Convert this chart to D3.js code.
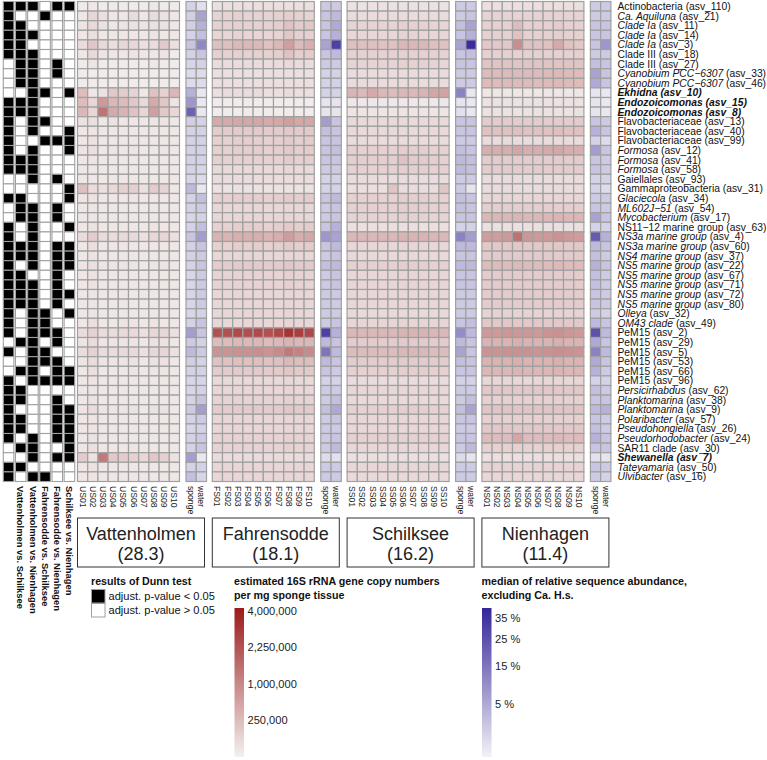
<!DOCTYPE html>
<html>
<head>
<meta charset="utf-8">
<script src="https://cdn.jsdelivr.net/npm/d3@7"></script>
<style>
    body { margin: 0; background: #fff; }
    svg { font-family: "Liberation Sans", Arial, sans-serif; }
</style>
</head>
<body>
<div id="chart"></div>
<script>
// Row labels
const taxonNames = ["Actinobacteria", "Ca. Aquiluna", "Clade Ia", "Clade Ia", "Clade Ia", "Clade III", "Clade III",
    "Cyanobium PCC−6307", "Cyanobium PCC−6307", "Ekhidna", "Endozoicomonas", "Endozoicomonas",
    "Flavobacteriaceae", "Flavobacteriaceae", "Flavobacteriaceae", "Formosa", "Formosa", "Formosa", "Gaiellales",
    "Gammaproteobacteria", "Glaciecola", "ML602J−51", "Mycobacterium", "NS11−12 marine group", "NS3a marine group",
    "NS3a marine group", "NS4 marine group", "NS5 marine group", "NS5 marine group", "NS5 marine group",
    "NS5 marine group", "NS5 marine group", "Olleya", "OM43 clade", "PeM15", "PeM15", "PeM15", "PeM15", "PeM15",
    "PeM15", "Persicirhabdus", "Planktomarina", "Planktomarina", "Polaribacter", "Pseudohongiella",
    "Pseudorhodobacter", "SAR11 clade", "Shewanella", "Tateyamaria", "Ulvibacter"];
const taxonAsv = ["asv_110", "asv_21", "asv_11", "asv_14", "asv_3", "asv_18", "asv_27", "asv_33", "asv_46", "asv_10",
    "asv_15", "asv_8", "asv_13", "asv_40", "asv_99", "asv_12", "asv_41", "asv_58", "asv_93", "asv_31", "asv_34",
    "asv_54", "asv_17", "asv_63", "asv_4", "asv_60", "asv_37", "asv_22", "asv_67", "asv_71", "asv_72", "asv_80",
    "asv_32", "asv_49", "asv_2", "asv_29", "asv_5", "asv_53", "asv_66", "asv_96", "asv_62", "asv_38", "asv_9",
    "asv_57", "asv_26", "asv_24", "asv_30", "asv_7", "asv_50", "asv_16"];
// n = plain, i = italic name, b = bold italic label
const taxonStyle = ["n", "i", "i", "i", "i", "n", "n", "i", "i", "b", "b", "b", "n", "n", "n", "i", "i", "i", "n", "n",
    "i", "i", "i", "n", "i", "i", "i", "i", "i", "i", "i", "i", "i", "i", "n", "n", "n", "n", "n", "n", "i", "i", "i",
    "i", "i", "i", "n", "b", "i", "i"];

const sites = ["Vattenholmen", "Fahrensodde", "Schilksee", "Nienhagen"];
const siteCodes = ["US", "FS", "SS", "NS"];
const siteMedians = ["28.3", "18.1", "16.2", "11.4"];
const samples = ["01", "02", "03", "04", "05", "06", "07", "08", "09", "10"];
const fractions = ["sponge", "water"];

// first column carries no printed label in the figure
const comparisons = ["c1", "c2", "c3", "c4", "c5", "c6"];
const comparisonLabels = ["", "Vattenholmen vs. Schilksee", "Vattenholmen vs. Nienhagen",
    "Fahrensodde vs. Schilksee", "Fahrensodde vs. Nienhagen", "Schilksee vs. Nienhagen"];
// 1 = adjust. p-value < 0.05
const dunn = [
    [1,1,1,0,1,1],[1,0,0,1,0,0],[1,1,0,0,0,0],[1,1,1,0,0,0],[1,1,0,0,0,0],[1,1,1,0,0,0],[0,1,1,0,1,0],
    [0,1,1,0,1,0],[0,1,1,0,0,0],[0,0,1,1,0,1],[1,1,1,0,0,0],[1,1,1,0,0,0],[1,0,1,1,0,0],[1,0,1,0,0,1],
    [1,0,0,1,1,1],[1,0,1,0,0,1],[1,1,1,0,0,0],[1,1,1,0,0,0],[0,0,1,0,1,0],[0,0,0,0,0,1],[1,1,0,0,0,1],
    [0,1,1,0,1,0],[0,1,1,0,1,0],[1,0,1,0,0,1],[1,0,1,0,0,0],[1,1,1,0,1,1],[1,1,1,0,1,1],[1,0,1,0,1,1],
    [1,1,0,0,1,0],[1,1,1,0,1,0],[1,1,1,0,1,1],[1,1,1,0,1,0],[1,0,1,1,0,1],[1,0,1,1,0,0],[1,0,1,1,1,0],
    [0,1,1,0,1,0],[1,0,1,1,0,0],[0,0,1,1,1,0],[0,1,1,0,1,1],[1,0,1,1,1,1],[1,1,0,0,0,0],[1,1,0,0,1,0],
    [1,0,0,0,1,1],[1,1,0,0,1,1],[1,1,0,0,1,1],[1,0,1,0,1,1],[0,1,1,0,0,1],[0,0,1,0,1,1],[1,1,0,0,0,0],
    [1,0,1,1,0,0]];

// estimated 16S rRNA gene copies per mg sponge tissue, in thousands (rows = taxa, cols = samples 01-10)
const copiesUS = [
    [5,8,5,5,5,5,5,8,5,5],[10,60,30,10,10,40,10,40,20,10],[15,50,20,10,15,20,15,25,20,10],
    [10,30,10,10,10,10,10,15,10,10],[40,160,50,30,60,60,30,40,140,30],[10,50,15,10,10,15,10,10,15,5],
    [5,15,5,5,5,5,5,10,5,5],[3,3,3,3,3,3,3,3,3,3],[3,3,3,3,3,3,3,3,3,3],
    [250,10,20,150,120,80,10,200,90,300],[250,60,700,300,250,150,50,450,160,15],
    [300,60,1400,450,350,200,70,600,150,60],[20,30,10,20,10,10,10,15,15,10],[10,15,10,10,10,10,10,10,10,10],
    [10,20,10,10,10,10,10,10,10,10],[15,30,10,15,10,15,10,10,15,10],[10,15,10,10,10,10,10,10,10,10],
    [10,10,10,10,10,10,10,10,10,10],[10,10,10,10,10,10,10,10,10,10],[220,40,30,50,90,110,30,120,80,10],
    [15,20,10,10,10,15,10,10,10,10],[10,15,10,10,10,10,10,10,10,10],[10,15,10,10,10,10,10,10,10,10],
    [10,20,10,10,10,10,10,15,10,10],[40,120,40,40,50,50,30,60,70,30],[10,30,10,10,10,10,10,10,10,10],
    [10,20,10,10,10,10,10,10,10,10],[15,30,15,15,15,15,10,15,15,10],[10,20,10,10,10,10,10,10,10,10],
    [10,20,10,10,10,10,10,10,10,10],[10,15,10,10,10,10,10,10,10,10],[10,15,10,10,10,10,10,10,10,10],
    [10,15,10,10,10,10,10,10,10,10],[10,30,10,10,15,15,10,15,10,10],[40,90,40,40,50,50,30,60,60,30],
    [15,40,15,15,15,15,10,20,20,10],[40,100,40,40,50,50,30,60,70,30],[15,40,15,15,15,20,10,20,20,10],
    [10,30,10,10,10,15,10,15,15,10],[10,15,10,10,10,10,10,10,10,10],[10,15,10,10,10,10,10,10,10,10],
    [10,20,10,10,10,10,10,10,10,10],[15,40,15,15,15,20,10,20,20,10],[10,15,10,10,10,10,10,10,10,10],
    [10,15,10,10,10,10,10,10,10,10],[10,20,10,10,10,10,10,10,10,10],[10,30,10,10,10,15,10,10,10,10],
    [120,20,1300,150,120,100,60,150,100,20],[10,20,10,10,10,10,10,10,10,10],[10,15,10,10,10,10,10,10,10,10]];
const copiesFS = [
    [30,30,30,30,30,30,30,30,30,30],[80,80,90,80,80,80,90,110,90,80],[90,90,100,90,90,100,110,200,120,160],
    [70,70,80,70,70,70,80,160,90,100],[220,220,280,280,280,200,300,600,250,380],
    [90,90,100,100,100,90,110,200,110,120],[40,40,40,40,40,40,40,50,40,40],[30,30,30,30,30,30,30,30,30,30],
    [30,30,30,30,30,30,30,30,30,30],[30,40,40,40,40,30,30,40,30,30],[3,3,3,3,3,3,3,3,3,3],[3,3,3,3,3,3,3,3,3,3],
    [450,450,480,480,480,450,480,600,480,500],[120,120,130,130,130,120,130,150,130,130],
    [100,100,110,110,110,100,110,130,110,120],[100,100,110,110,110,100,110,140,110,120],
    [90,90,100,100,100,90,100,120,100,110],[50,50,50,50,50,50,50,60,50,50],[40,40,40,40,40,40,40,40,40,40],
    [20,20,20,20,20,20,20,20,20,20],[100,100,110,110,110,100,110,130,110,120],[60,60,60,60,60,60,60,70,60,60],
    [60,60,60,60,60,60,60,70,60,60],[100,100,110,110,110,100,110,130,110,120],
    [350,350,380,380,400,350,420,650,420,480],[100,100,110,110,110,100,110,140,110,120],
    [60,60,60,60,60,60,60,70,60,60],[120,120,130,130,130,120,130,160,130,140],[80,80,80,80,80,80,80,100,80,80],
    [80,80,80,80,80,80,80,100,80,80],[60,60,60,60,60,60,60,70,60,60],[60,60,60,60,60,60,60,70,60,60],
    [60,60,60,60,60,60,60,70,60,60],[60,60,60,60,60,60,60,70,60,60],
    [2300,2300,2500,2400,2500,2300,2600,3200,2900,2600],[250,250,280,280,280,250,280,350,300,300],
    [800,800,850,850,900,800,950,1300,1100,950],[200,200,220,220,220,200,220,280,240,240],
    [120,120,130,130,130,120,130,160,140,140],[50,50,50,50,50,50,50,60,50,50],[60,60,60,60,60,60,60,70,60,60],
    [80,80,80,80,80,80,80,100,80,80],[120,120,130,130,130,120,130,160,140,140],[60,60,60,60,60,60,60,70,60,60],
    [60,60,60,60,60,60,60,70,60,60],[80,80,80,80,80,80,80,100,80,80],[80,80,80,80,80,80,80,100,80,80],
    [40,40,40,40,40,40,40,40,40,40],[60,60,60,60,60,60,60,70,60,60],[60,60,60,60,60,60,60,70,60,60]];
const copiesSS = [
    [20,20,20,20,20,20,20,20,20,20],[40,40,40,40,40,40,40,40,40,40],[80,80,80,80,80,100,100,90,80,70],
    [60,60,60,60,60,80,80,70,60,60],[220,220,220,200,200,300,300,300,220,200],[90,90,90,90,90,100,100,100,90,80],
    [80,80,80,80,80,90,90,90,80,70],[40,40,40,40,40,40,40,40,40,40],[40,40,40,40,40,40,40,40,40,40],
    [350,280,450,300,250,300,280,350,500,550],[8,8,8,8,8,8,8,8,8,8],[15,15,15,15,15,15,15,15,15,15],
    [50,50,50,50,50,50,50,50,50,50],[50,50,50,50,50,50,50,50,50,50],[40,40,40,40,40,40,40,40,40,40],
    [100,100,100,100,100,110,110,110,100,100],[110,110,110,110,110,200,130,130,110,100],
    [100,100,100,100,100,110,110,110,100,100],[40,40,40,40,40,40,40,40,40,40],[30,30,30,30,180,40,40,40,40,170],
    [100,100,100,100,100,110,110,110,100,100],[100,100,100,100,100,110,110,110,100,100],
    [80,80,80,80,80,90,90,90,80,80],[30,30,30,30,30,30,30,30,30,30],[300,300,300,300,300,350,350,350,300,300],
    [60,60,60,60,60,70,70,70,60,60],[50,50,50,50,50,55,55,55,50,50],[100,100,100,100,100,110,110,110,100,100],
    [60,60,60,60,60,65,65,65,60,60],[70,70,70,70,70,75,75,75,70,70],[60,60,60,60,60,60,60,60,60,60],
    [60,60,60,60,60,60,60,60,60,60],[50,50,50,50,50,50,50,50,50,50],[70,70,70,70,70,75,75,75,70,70],
    [300,300,300,300,300,350,350,350,300,300],[120,120,120,120,120,130,130,130,120,120],
    [250,250,250,250,250,300,300,300,250,250],[120,120,120,120,120,130,130,130,120,120],
    [100,100,100,100,100,110,110,110,100,100],[40,40,40,40,40,40,40,40,40,40],[60,60,60,60,60,60,60,60,60,60],
    [50,50,50,50,50,50,50,50,50,50],[100,100,100,100,100,110,110,110,100,100],[60,60,60,60,60,60,60,60,60,60],
    [60,60,60,60,60,60,60,60,60,60],[90,90,90,90,90,95,95,95,90,90],[60,60,60,60,60,60,60,60,60,60],
    [30,30,30,30,30,30,30,30,30,30],[60,60,60,60,60,60,60,60,60,60],[50,50,50,50,50,50,50,50,50,50]];
const copiesNS = [
    [30,30,30,30,30,30,30,30,30,30],[80,80,80,80,80,80,80,80,80,80],[100,100,100,250,100,100,100,120,100,100],
    [90,90,90,200,90,90,90,110,90,90],[150,150,150,900,200,200,200,450,200,150],
    [100,100,100,100,100,100,100,100,100,100],[180,180,180,180,180,180,180,180,180,180],
    [250,250,260,260,260,250,260,270,260,250],[250,250,260,260,260,250,260,270,260,250],
    [10,10,10,10,10,10,10,10,10,10],[20,20,20,20,20,20,20,20,20,20],[20,20,20,20,20,20,20,20,20,20],
    [120,120,120,120,120,120,120,120,120,120],[200,200,200,220,200,200,200,220,200,200],
    [40,40,40,40,40,40,40,40,40,40],[400,400,420,500,420,420,450,480,420,400],
    [120,120,120,120,120,120,120,120,120,120],[120,120,120,120,120,120,120,120,120,120],
    [40,40,40,40,40,40,40,40,40,40],[40,40,40,40,40,40,40,40,40,40],[60,60,60,60,60,60,60,60,60,60],
    [110,110,110,110,110,110,110,110,110,110],[300,300,300,320,300,300,300,320,300,300],
    [30,30,30,30,30,30,30,30,30,30],[650,650,700,1500,750,700,700,800,700,650],
    [150,150,150,160,150,150,150,160,150,150],[130,130,130,130,130,130,130,130,130,130],
    [250,250,250,270,250,250,250,270,250,250],[120,120,120,120,120,120,120,120,120,120],
    [120,120,120,120,120,120,120,120,120,120],[120,120,120,120,120,120,120,120,120,120],
    [120,120,120,120,120,120,120,120,120,120],[80,80,80,80,80,80,80,80,80,80],
    [150,150,150,150,150,150,150,150,150,150],[700,700,750,750,750,700,800,850,750,700],
    [350,350,350,380,350,350,350,380,350,350],[800,800,850,850,850,800,850,900,850,800],
    [350,350,350,380,350,350,350,380,350,350],[300,300,300,320,300,300,300,320,300,300],
    [60,60,60,60,60,60,60,60,60,60],[150,150,150,150,150,150,150,150,150,150],
    [100,100,100,100,100,100,100,100,100,100],[180,180,180,180,180,180,180,180,180,180],
    [100,100,100,100,100,100,100,100,100,100],[150,150,150,150,150,150,150,150,150,150],
    [250,250,250,500,250,250,250,280,250,250],[100,100,100,100,100,100,100,100,100,100],
    [30,30,30,30,30,30,30,30,30,30],[80,80,80,80,80,80,80,80,80,80],[60,60,60,60,60,60,60,60,60,60]];

// median relative sequence abundance in % : [sponge, water]
const abundUS = [
    [1,0.3],[1.2,6],[1.2,4],[1,2.5],[2,11],[1,2],[0.8,1],[0.5,0.5],[0.5,0.5],[4,0.1],[8,0.1],[20,0.1],[1.2,1],
    [1,1],[1,1],[1,1],[1,1],[1,0.8],[0.8,0.5],[3,0.1],[1,2.5],[1,1.5],[0.8,1],[1,2.5],[2,7],[1,2],[1,1.5],[1,2],
    [0.8,1.5],[0.8,1.5],[0.8,1.5],[0.8,1.5],[0.8,1],[1,2],[7,2],[1.5,1],[3,1.5],[1.2,1],[1,1],[0.8,0.8],[0.8,1],
    [1,2],[1.5,7],[1,1.5],[0.8,1],[1,1.5],[1,2],[7,0.1],[1,1],[2.5,0.8]];
const abundFS = [
    [1.5,1.5],[2,3],[2,5],[2,4],[6,30],[2,3],[1.5,1.5],[1,1],[1,1],[1,1],[0.2,0.2],[0.2,0.2],[7,2],[2.5,2],
    [2,2],[2,2.5],[2,2],[1.5,1.5],[1,1],[1,1],[2,3],[1.5,2],[1.5,2],[2,4],[8,6],[2,3],[1.5,2],[2.5,3],[1.5,2],
    [1.5,2],[1.5,1.5],[1.5,1.5],[1.5,1.5],[1.5,2],[30,4],[3,2],[15,3],[3,2],[2,1.5],[1,1],[1.5,1.5],[1.5,2.5],
    [2.5,5],[1.5,2],[1.5,1.5],[1.5,2],[1.5,3],[0.5,0.3],[1.5,1.5],[1.5,1.5]];
const abundSS = [
    [1.5,1.5],[1.5,2],[2.5,6],[2,4],[6,38],[2,2.5],[2,2],[1.5,1.5],[1.5,1.5],[12,0.1],[0.2,0.1],[0.3,0.1],
    [2,2],[2,2],[1.5,1.5],[2.5,2],[3,2.5],[3,2.5],[1.5,1.5],[1.5,0.2],[2.5,2],[2.5,2],[2,2],[1,1],[12,7],[3,3],
    [2,2],[3,3],[2,2],[2,2],[1.5,1.5],[1.5,1.5],[1.5,1.5],[2,2.5],[10,3],[3,2],[6,2],[2.5,2],[2,2],[1,1],
    [1.5,1.5],[1.5,2.5],[2.5,6],[2,2],[1.5,1.5],[2,2],[1.5,3],[0.5,0.2],[1.5,1.5],[1.5,1.5]];
const abundNS = [
    [1.5,1.5],[1.5,1.5],[2,2],[2,2],[2,8],[1.5,1.5],[2.5,2],[6,2],[5,2],[0.2,0.1],[0.2,0.1],[0.2,0.1],[2,1.5],
    [4,2],[1,0.5],[7,2],[2,1.5],[2,1.5],[1,1],[1,0.5],[1.5,1.5],[2,1.5],[6,2],[1,1],[22,4],[3,2],[2.5,1.5],
    [4,2],[2.5,1.5],[2.5,1.5],[2,1.5],[2,1.5],[1.5,1],[3,2],[25,3],[5,2],[12,3],[5,2],[4,1.5],[1,1],[2.5,1.5],
    [2,2],[3,4],[2,1.5],[2.5,1.5],[4,2],[2,2],[0.3,0.2],[2,1.5],[1.5,1]];

const copies = [copiesUS, copiesFS, copiesSS, copiesNS];
const abund = [abundUS, abundFS, abundSS, abundNS];

// legend ticks
const copyTicks = [4000, 2250, 1000, 250];
const abundTicks = [35, 25, 15, 5];

let width = 767, height = 760;
let svg = d3.select("#chart").append("svg")
    .attr("width", width)
    .attr("height", height);

let rowH = 9.6, gridTop = 1.5;
let yScale = d3.scaleBand()
    .domain(taxonAsv)
    .range([gridTop, gridTop + taxonAsv.length * rowH]);

let siteScale = d3.scaleBand().domain(sites).range([77.5, 77.5 + 4 * 134.8]);
let sampleScale = d3.scaleBand().domain(samples).range([0, 102]);
let fracScale = d3.scaleBand().domain(fractions).range([108.5, 129]);
let dunnScale = d3.scaleBand().domain(comparisons).range([2.5, 75.5]);

let redColor = d3.scaleSequentialSqrt(d3.interpolateRgb("#f3f1f1", "#9c1a1a")).domain([0, 4160]);
let blueColor = d3.scaleSequentialSqrt(d3.interpolateRgb("#f2f2f6", "#35269a")).domain([0, 40]);

let gridStroke = "#a0a0a0";

// Dunn test matrix
let dunnCells = [];
dunn.forEach((row, r) => row.forEach((v, c) => dunnCells.push({asv: taxonAsv[r], comp: comparisons[c], v: v})));

svg.append("g").selectAll("rect")
    .data(dunnCells)
    .join("rect")
    .attr("x", d => dunnScale(d.comp) + 0.8)
    .attr("y", d => yScale(d.asv))
    .attr("width", dunnScale.bandwidth() - 1.6)
    .attr("height", yScale.bandwidth())
    .attr("fill", d => d.v ? "#000" : "#fff")
    .attr("stroke", gridStroke)
    .attr("stroke-width", 1.1);

svg.append("g").selectAll("text")
    .data(comparisons)
    .join("text")
    .attr("transform", d => `translate(${dunnScale(d) + dunnScale.bandwidth() / 2},486) rotate(90)`)
    .attr("dy", "0.35em")
    .style("font-size", "9.4px")
    .style("font-weight", "bold")
    .attr("fill", "#111")
    .text((d, i) => comparisonLabels[i]);

// heatmap blocks, one per site
sites.forEach((site, si) => {
    let g = svg.append("g").attr("transform", `translate(${siteScale(site)},0)`);

    let cells = [];
    copies[si].forEach((row, r) => row.forEach((v, j) => cells.push({asv: taxonAsv[r], s: samples[j], v: v})));

    g.append("g").selectAll("rect")
        .data(cells)
        .join("rect")
        .attr("x", d => sampleScale(d.s))
        .attr("y", d => yScale(d.asv))
        .attr("width", sampleScale.bandwidth())
        .attr("height", yScale.bandwidth())
        .attr("fill", d => redColor(d.v))
        .attr("stroke", gridStroke)
        .attr("stroke-width", 1.2);

    let fcells = [];
    abund[si].forEach((row, r) => row.forEach((v, j) => fcells.push({asv: taxonAsv[r], f: fractions[j], v: v})));

    g.append("g").selectAll("rect")
        .data(fcells)
        .join("rect")
        .attr("x", d => fracScale(d.f))
        .attr("y", d => yScale(d.asv))
        .attr("width", fracScale.bandwidth())
        .attr("height", yScale.bandwidth())
        .attr("fill", d => blueColor(d.v))
        .attr("stroke", gridStroke)
        .attr("stroke-width", 1.2);

    // column labels
    g.append("g").selectAll("text")
        .data(samples)
        .join("text")
        .attr("transform", d => `translate(${sampleScale(d) + sampleScale.bandwidth() / 2},486) rotate(90)`)
        .attr("dy", "0.35em")
        .style("font-size", "8.6px")
        .attr("fill", "#222")
        .text(d => siteCodes[si] + d);

    g.append("g").selectAll("text")
        .data(fractions)
        .join("text")
        .attr("transform", d => `translate(${fracScale(d) + fracScale.bandwidth() / 2},486) rotate(90)`)
        .attr("dy", "0.35em")
        .style("font-size", "8.6px")
        .attr("fill", "#222")
        .text(d => d);

    // site box
    g.append("rect")
        .attr("x", 0)
        .attr("y", 518)
        .attr("width", 127)
        .attr("height", 49)
        .attr("fill", "none")
        .attr("stroke", "#333")
        .attr("stroke-width", 1);

    g.append("text")
        .attr("x", 63.5)
        .attr("y", 539.5)
        .attr("text-anchor", "middle")
        .style("font-size", "18px")
        .attr("fill", "#222")
        .text(site);

    g.append("text")
        .attr("x", 63.5)
        .attr("y", 560)
        .attr("text-anchor", "middle")
        .style("font-size", "18px")
        .attr("fill", "#222")
        .text("(" + siteMedians[si] + ")");
});

// row labels
let labels = svg.append("g").selectAll("text")
    .data(taxonAsv)
    .join("text")
    .attr("x", 617.5)
    .attr("y", d => yScale(d) + yScale.bandwidth() / 2)
    .attr("dy", "0.35em")
    .style("font-size", "10.3px")
    .attr("fill", "#111");

labels.append("tspan")
    .style("font-style", (d, i) => taxonStyle[i] == "n" ? "normal" : "italic")
    .style("font-weight", (d, i) => taxonStyle[i] == "b" ? "bold" : "normal")
    .text((d, i) => taxonNames[i]);

labels.append("tspan")
    .style("font-style", (d, i) => taxonStyle[i] == "b" ? "italic" : "normal")
    .style("font-weight", (d, i) => taxonStyle[i] == "b" ? "bold" : "normal")
    .text(d => " (" + d + ")");

// legend: Dunn test
let lg = svg.append("g");
lg.append("text")
    .attr("x", 91)
    .attr("y", 585)
    .style("font-size", "10.7px")
    .style("font-weight", "bold")
    .attr("fill", "#111")
    .text("results of Dunn test");

[["#000", "adjust. p-value < 0.05"], ["#fff", "adjust. p-value > 0.05"]].forEach((d, i) => {
    lg.append("rect")
        .attr("x", 91.5)
        .attr("y", 589.5 + i * 14)
        .attr("width", 13.5)
        .attr("height", 13.5)
        .attr("fill", d[0])
        .attr("stroke", gridStroke);
    lg.append("text")
        .attr("x", 108.5)
        .attr("y", 596.5 + i * 14)
        .attr("dy", "0.35em")
        .style("font-size", "11.1px")
        .attr("fill", "#111")
        .text(d[1]);
});

// colour bars
function colorBar(x, title, scale, color, ticks, fmt, id) {
    let barY = scale.copy().range([757, 608]);
    let grad = svg.append("defs").append("linearGradient")
        .attr("id", id)
        .attr("x1", 0).attr("y1", 1).attr("x2", 0).attr("y2", 0);
    d3.range(0, 1.0001, 0.05).forEach(t => {
        grad.append("stop")
            .attr("offset", t)
            .attr("stop-color", color(barY.invert(757 - t * 149)));
    });

    let g = svg.append("g");
    title.forEach((line, i) => {
        g.append("text")
            .attr("x", x - 0.5)
            .attr("y", 585 + i * 13.5)
            .style("font-size", "10.7px")
            .style("font-weight", "bold")
            .attr("fill", "#111")
            .text(line);
    });
    g.append("rect")
        .attr("x", x)
        .attr("y", 608)
        .attr("width", 9.5)
        .attr("height", 149)
        .attr("fill", `url(#${id})`);
    g.selectAll(".tick")
        .data(ticks)
        .join("text")
        .attr("x", x + 13)
        .attr("y", d => barY(d))
        .attr("dy", "0.35em")
        .style("font-size", "11.1px")
        .attr("fill", "#222")
        .text(fmt);
}

colorBar(234.5, ["estimated 16S rRNA gene copy numbers", "per mg sponge tissue"],
    d3.scaleSqrt().domain([0, 4160]), redColor, copyTicks, d => d3.format(",")(d * 1000), "redGrad");
colorBar(482, ["median of relative sequence abundance,", "excluding Ca. H.s."],
    d3.scaleSqrt().domain([0, 40]), blueColor, abundTicks, d => d + " %", "blueGrad");
</script>
</body>
</html>
